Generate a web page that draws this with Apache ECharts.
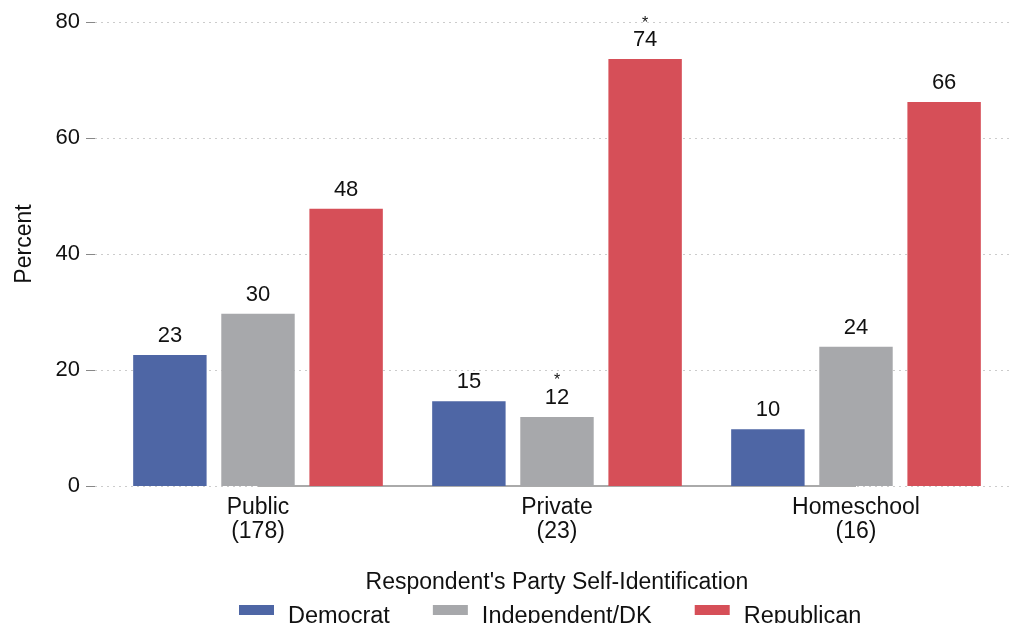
<!DOCTYPE html>
<html><head><meta charset="utf-8">
<script src="https://cdn.jsdelivr.net/npm/echarts@6/dist/echarts.min.js"></script>
<style>html,body{margin:0;padding:0;background:#fff}#c{width:1011px;height:623px}</style>
</head><body><div id="c"></div><script>
const categories = ['Public\n(178)', 'Private\n(23)', 'Homeschool\n(16)'];
const seriesNames = ['Democrat', 'Independent/DK', 'Republican'];
const democrat = [22.6, 14.6, 9.8];
const independent = [29.7, 11.9, 24.0];
const republican = [47.8, 73.6, 66.2];
const democratStar = [false, false, false];
const independentStar = [false, true, false];
const republicanStar = [false, true, false];
const yTicks = [0, 20, 40, 60, 80];
const colors = ['#4e66a5', '#a7a8ab', '#d64f58'];

const FONT = 'Liberation Sans';
const chart = echarts.init(document.getElementById('c'), null, {renderer: 'canvas'});

function makeSeries(name, values, stars, color) {
  return {
    name: name, type: 'bar', xAxisIndex: 0, yAxisIndex: 0,
    data: values.map((v, i) => ({value: v, star: stars[i]})),
    itemStyle: {color: color},
    barGap: '20%', barCategoryGap: '16.5%',
    label: {
      show: true, position: 'top', distance: 8,
      formatter: p => (p.data.star ? '{s|*}\n' : '') + '{v|' + Math.round(p.value) + '}',
      rich: {
        v: {fontFamily: FONT, fontSize: 22, color: '#111', lineHeight: 22},
        s: {fontFamily: FONT, fontSize: 16, color: '#111', lineHeight: 12}
      }
    }
  };
}

const series = [
  makeSeries(seriesNames[0], democrat, democratStar, colors[0]),
  makeSeries(seriesNames[1], independent, independentStar, colors[1]),
  makeSeries(seriesNames[2], republican, republicanStar, colors[2])
];
series[1].markLine = {
  silent: true, symbol: 'none', z: 1,
  lineStyle: {color: '#aaa', type: 'solid', width: 2},
  label: {show: false},
  data: [[{coord: [categories[0], 0]}, {coord: [categories[2], 0]}]]
};

chart.setOption({
  animation: false,
  backgroundColor: '#fff',
  textStyle: {fontFamily: FONT},
  grid: [
    {left: 108.5, right: 5.5, top: 22, bottom: 137, containLabel: false},
    {left: 95, right: 0, top: 22, bottom: 137, containLabel: false}
  ],
  legend: {
    data: seriesNames, left: 239, top: 591, padding: 0, icon: 'rect',
    itemWidth: 35, itemHeight: 10, itemGap: 43,
    formatter: name => '{t|' + name + '}',
    textStyle: {
      fontFamily: FONT, fontSize: 23.5, color: '#111',
      rich: {t: {fontFamily: FONT, fontSize: 23.5, color: '#111', lineHeight: 26, padding: [14, 0, 0, 9]}}
    }
  },
  xAxis: [
    {
      type: 'category', gridIndex: 0, data: categories,
      axisLine: {show: false}, axisTick: {show: false},
      axisLabel: {fontFamily: FONT, fontSize: 23, color: '#111', lineHeight: 24, margin: 10},
      name: "Respondent's Party Self-Identification", nameLocation: 'middle', nameGap: 85,
      nameTextStyle: {fontFamily: FONT, fontSize: 23, color: '#111', verticalAlign: 'top'}
    },
    {type: 'value', gridIndex: 1, show: false, min: 0, max: 1}
  ],
  yAxis: [
    {type: 'value', gridIndex: 0, min: 0, max: 80, interval: 20, show: false, splitLine: {show: false}},
    {
      type: 'value', gridIndex: 1, min: yTicks[0], max: yTicks[yTicks.length - 1], interval: 20,
      axisLine: {show: false},
      axisTick: {show: true, length: 9, lineStyle: {color: '#888'}},
      axisLabel: {fontFamily: FONT, fontSize: 22, color: '#111', margin: 15},
      splitLine: {show: true, lineStyle: {color: '#ccc', type: [2, 4], width: 1}},
      name: 'Percent', nameLocation: 'middle', nameGap: 59, nameRotate: 90,
      nameTextStyle: {fontFamily: FONT, fontSize: 23, color: '#111', padding: [0, 0, 0, 20]}
    }
  ],
  series: series
});
</script></body></html>
